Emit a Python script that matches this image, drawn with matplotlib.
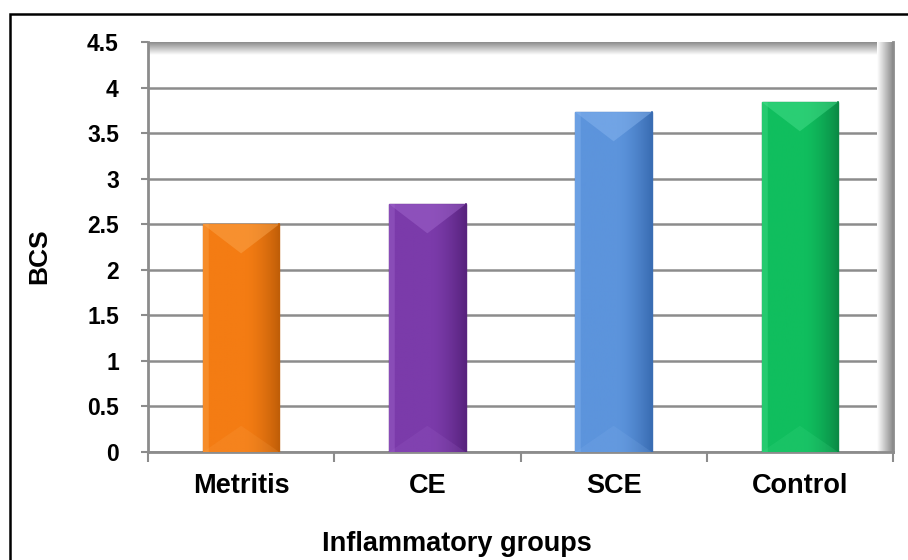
import numpy as np
import matplotlib
matplotlib.use("Agg")
import matplotlib.pyplot as plt
from matplotlib.patches import Rectangle, Polygon
from matplotlib.colors import to_rgb

groups = ["Metritis", "CE", "SCE", "Control"]
bcs = [2.50, 2.72, 3.73, 3.84]
yticks = [0, 0.5, 1, 1.5, 2, 2.5, 3, 3.5, 4, 4.5]

# base, light, dark shade of every bar
base_colors = ["#F47C13", "#7B3BAA", "#5C94DC", "#10BE5E"]
light_colors = ["#FAA54C", "#A066CC", "#86B4EE", "#45DE8A"]
dark_colors = ["#C05E08", "#58237E", "#3A6DB3", "#0A8A45"]

grey = "#8C8C8C"

fig = plt.figure(figsize=(9.08, 5.6), dpi=100)
ax = fig.add_axes([148/908, 1-452/560, (893-148)/908, (452-42)/560])

x = np.arange(len(groups))
bars = ax.bar(x, bcs, width=0.41, color=base_colors, edgecolor=dark_colors,
              linewidth=1, zorder=3)

depth = 0.32  # bevel depth in data units
for i, b in enumerate(bars):
    x0 = b.get_x()
    w = b.get_width()
    h = b.get_height()
    c = np.array(to_rgb(base_colors[i]))
    d = np.array(to_rgb(dark_colors[i]))
    l = np.array(to_rgb(light_colors[i]))
    # horizontal shading: a bit lighter left, darker toward right edge
    t = np.linspace(0, 1, 80)
    k = np.clip((t - 0.55) / 0.45, 0, 1) ** 1.5
    row = c[None, :] * (1 - k[:, None]) + d[None, :] * k[:, None]
    row[:6] = row[:6] * 0.6 + l * 0.4
    img = ax.imshow(row[None, :, :], extent=[x0, x0 + w, 0, h],
                    aspect="auto", zorder=3.1, interpolation="bilinear")
    img.set_clip_path(b)
    # top bevel
    top = Polygon([(x0, h), (x0 + w, h), (x0 + w/2, h - depth)],
                  closed=True, facecolor=l, alpha=0.5, edgecolor="none",
                  zorder=3.2)
    ax.add_patch(top)
    # bottom bevel
    bot = Polygon([(x0, 0), (x0 + w, 0), (x0 + w/2, depth * 0.9)],
                  closed=True, facecolor=l, alpha=0.18, edgecolor="none",
                  zorder=3.2)
    ax.add_patch(bot)
    ax.plot([x0 + w, x0 + w], [0, h], color=d, lw=1.2, zorder=3.3)

ax.set_xlim(-0.5, len(groups) - 0.5)
ax.set_ylim(0, 4.5)
ax.set_yticks(yticks)
ax.set_yticklabels(["0" if v == 0 else ("%g" % v) for v in yticks],
                   fontfamily="Liberation Sans", fontweight="bold",
                   fontsize=16.5)
ax.set_xticks(x)
ax.set_xticklabels(groups, fontfamily="Liberation Sans", fontweight="bold",
                   fontsize=19.5)
ax.set_xticks(np.arange(len(groups) + 1) - 0.5, minor=True)
ax.tick_params(axis="x", which="major", length=0, pad=15)
ax.tick_params(axis="x", which="minor", length=7, width=1.5, color=grey)
ax.tick_params(axis="y", length=5, width=1.5, color=grey, pad=16)

ax.yaxis.grid(True, color=grey, linewidth=1.8, zorder=1)
ax.set_axisbelow(True)
for s in ["top", "right"]:
    ax.spines[s].set_visible(False)
ax.spines["left"].set_color(grey)
ax.spines["left"].set_linewidth(2)
ax.spines["bottom"].set_color(grey)
ax.spines["bottom"].set_linewidth(2)

# inner shadow on the top and right of the plot area
g = np.linspace(0.55, 1, 40)
shade_top = np.dstack([g, g, g])[0][:, None, :]
ax.imshow(shade_top, extent=[0, 1, 1 - 13/410, 1], transform=ax.transAxes,
          aspect="auto", zorder=2, interpolation="bilinear")
shade_right = np.dstack([g[::-1], g[::-1], g[::-1]])
ax.imshow(shade_right, extent=[1 - 16/745, 1, 0, 1], transform=ax.transAxes,
          aspect="auto", zorder=2, interpolation="bilinear")
ax.plot([1, 1], [0, 1], transform=ax.transAxes, color=grey, lw=2,
        zorder=2.5, clip_on=False)
ax.set_xlim(-0.5, len(groups) - 0.5)
ax.set_ylim(0, 4.5)

fig.text(39/908, 1-256/560, "BCS", rotation=90, ha="center", va="center",
         fontfamily="Liberation Sans", fontweight="bold", fontsize=19)
fig.text(457/908, 1-544/560, "Inflammatory groups", ha="center", va="center",
         fontfamily="Liberation Sans", fontweight="bold", fontsize=19.5)

# outer chart border (runs past right and bottom edges)
fig.patches.append(Rectangle((10/908, -0.1), 1.2, 1.1 - 14/560,
                             transform=fig.transFigure, fill=False,
                             edgecolor="black", linewidth=1.8))

fig.savefig("out.png", dpi=100)
